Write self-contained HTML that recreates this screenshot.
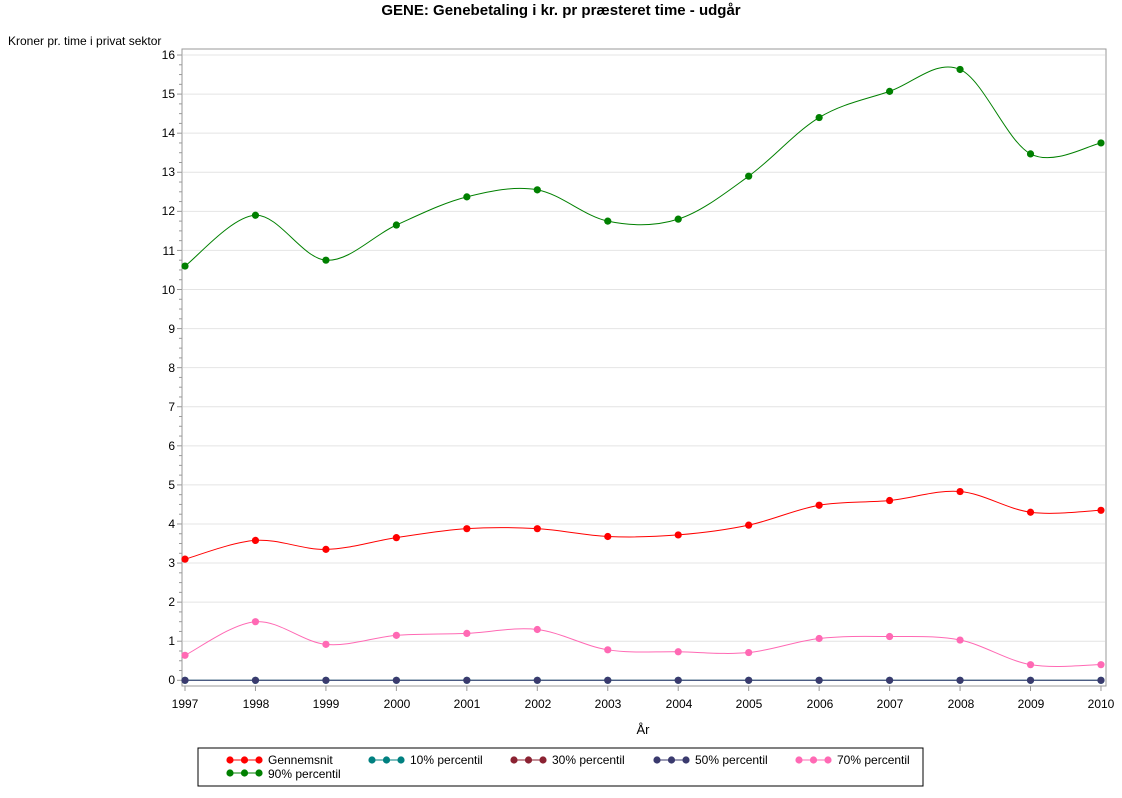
<!DOCTYPE html>
<html><head><meta charset="utf-8"><style>
body{margin:0;background:#fff;font-family:"Liberation Sans",Arial,sans-serif;}
svg text{font-family:"Liberation Sans",Arial,sans-serif;}
</style></head><body>
<svg id="s" width="1122" height="793" xmlns="http://www.w3.org/2000/svg">
<rect width="1122" height="793" fill="#fff"/>
<text x="561" y="15" font-size="15" font-weight="bold" text-anchor="middle">GENE: Genebetaling i kr. pr præsteret time - udgår</text>
<text x="8" y="45" font-size="12">Kroner pr. time i privat sektor</text>
<g id="grid"></g>
<rect x="182" y="49" width="924" height="637" fill="none" stroke="#999" stroke-width="1"/>
<g font-size="12" text-anchor="end">
<text x="175" y="684">0</text><text x="175" y="645">1</text><text x="175" y="606">2</text><text x="175" y="567">3</text>
<text x="175" y="528">4</text><text x="175" y="489">5</text><text x="175" y="450">6</text><text x="175" y="411">7</text>
<text x="175" y="372">8</text><text x="175" y="333">9</text><text x="175" y="294">10</text><text x="175" y="255">11</text>
<text x="175" y="215">12</text><text x="175" y="176">13</text><text x="175" y="137">14</text><text x="175" y="98">15</text><text x="175" y="59">16</text>
</g>
<g font-size="12" text-anchor="middle">
<text x="185" y="708">1997</text><text x="256" y="708">1998</text><text x="326" y="708">1999</text><text x="397" y="708">2000</text>
<text x="467" y="708">2001</text><text x="538" y="708">2002</text><text x="608" y="708">2003</text><text x="679" y="708">2004</text>
<text x="749" y="708">2005</text><text x="820" y="708">2006</text><text x="890" y="708">2007</text><text x="961" y="708">2008</text>
<text x="1031" y="708">2009</text><text x="1101" y="708">2010</text>
</g>
<text x="643" y="734" font-size="13" text-anchor="middle">År</text>
<g id="series"></g>
<rect x="198" y="748" width="725" height="38" fill="none" stroke="#000"/>
<g font-size="12">
<text x="268" y="764">Gennemsnit</text><text x="410" y="764">10% percentil</text><text x="552" y="764">30% percentil</text>
<text x="695" y="764">50% percentil</text><text x="837" y="764">70% percentil</text><text x="268" y="778">90% percentil</text>
</g>
<g id="leg"></g>
</svg>
<script>
var NS="http://www.w3.org/2000/svg";
function el(p,t,a){var e=document.createElementNS(NS,t);for(var k in a)e.setAttribute(k,a[k]);p.appendChild(e);return e;}
var X=function(i){return 185+i*70.46;},Y=function(v){return 680.3-v*39.08;};
var g=document.getElementById('grid');
for(var v=0;v<=16;v++){ if(v>0)el(g,'line',{x1:183,x2:1105,y1:Y(v),y2:Y(v),stroke:'#e4e4e4'});
 el(g,'line',{x1:177,x2:182,y1:Y(v),y2:Y(v),stroke:'#999'});
 if(v<16)for(var m=1;m<4;m++)el(g,'line',{x1:179,x2:182,y1:Y(v+m/4),y2:Y(v+m/4),stroke:'#999'});}
for(var i=0;i<14;i++)el(g,'line',{x1:X(i),x2:X(i),y1:686,y2:691,stroke:'#999'});
var data=[
['#ff0000',[3.1,3.58,3.35,3.65,3.88,3.88,3.68,3.72,3.97,4.48,4.6,4.83,4.3,4.35]],
['#ff69b4',[0.64,1.5,0.92,1.15,1.2,1.3,0.78,0.73,0.71,1.07,1.12,1.03,0.4,0.4]],
['#008000',[10.6,11.9,10.75,11.65,12.37,12.55,11.75,11.8,12.9,14.4,15.07,15.63,13.47,13.75]],
['#008080',[0,0,0,0,0,0,0,0,0,0,0,0,0,0]],
['#3a3a6e',[0,0,0,0,0,0,0,0,0,0,0,0,0,0]]];
var s=document.getElementById('series');
data.forEach(function(d){var p=d[1].map(function(v,i){return[X(i),Y(v)];});
 var str='M'+p[0][0]+','+p[0][1];
 for(var i=0;i<p.length-1;i++){var a=p[i-1]||p[i],b=p[i],c=p[i+1],e=p[i+2]||c;
  str+=' C'+(b[0]+(c[0]-a[0])/6)+','+(b[1]+(c[1]-a[1])/6)+' '+(c[0]-(e[0]-b[0])/6)+','+(c[1]-(e[1]-b[1])/6)+' '+c[0]+','+c[1];}
 el(s,'path',{d:str,fill:'none',stroke:d[0],'stroke-width':1});
 p.forEach(function(q){el(s,'circle',{cx:q[0],cy:q[1],r:3.6,fill:d[0]});});});
var L=document.getElementById('leg');
[['#ff0000',230,760],['#008080',372,760],['#8b2232',514,760],['#3a3a6e',657,760],['#ff69b4',799,760],['#008000',230,773]].forEach(function(l){
 el(L,'line',{x1:l[1],x2:l[1]+29,y1:l[2],y2:l[2],stroke:l[0]});
 for(var k=0;k<3;k++)el(L,'circle',{cx:l[1]+k*14.5,cy:l[2],r:3.6,fill:l[0]});});
</script>
</body></html>
